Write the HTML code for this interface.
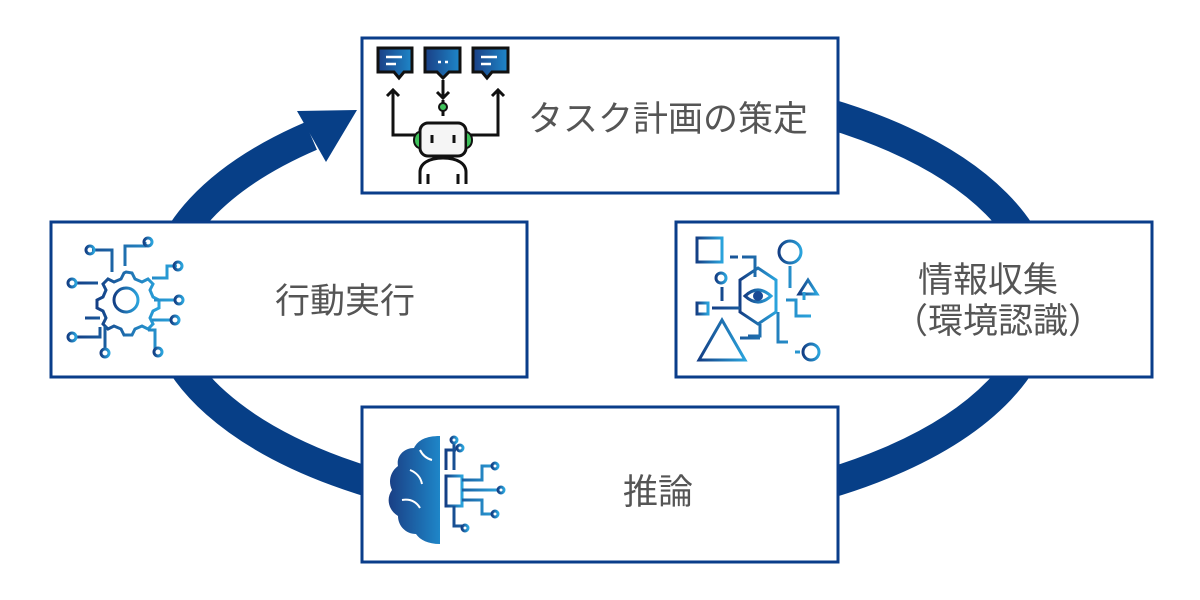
<!DOCTYPE html>
<html><head><meta charset="utf-8"><style>
html,body{margin:0;padding:0;background:#fff;}
svg{display:block}
text{font-family:"Liberation Sans","Noto Sans CJK JP",sans-serif;fill:#555;font-size:35px;}
</style></head><body>
<svg width="1200" height="600" viewBox="0 0 1200 600" xmlns="http://www.w3.org/2000/svg">
<defs>
<linearGradient id="g" x1="0" y1="0" x2="1" y2="0"><stop offset="0" stop-color="#143f85"/><stop offset="1" stop-color="#2aa3dc"/></linearGradient>
<linearGradient id="gb" x1="0" y1="0" x2="1" y2="0"><stop offset="0" stop-color="#1a3f85"/><stop offset="1" stop-color="#1e86c8"/></linearGradient>
</defs>
<path d="M311 136 A440 216 0 1 0 700 88" fill="none" stroke="#073f87" stroke-width="30"/>
<polygon points="297,111 357,110 326,162" fill="#073f87"/>

<g fill="#fff" stroke="#0a3d8a" stroke-width="3">
<rect x="362" y="38" width="476" height="155"/>
<rect x="51" y="222" width="476" height="155"/>
<rect x="676" y="222" width="476" height="155"/>
<rect x="362" y="407" width="476" height="155"/>
</g>

<text x="528" y="131">タスク計画の策定</text>
<text x="275" y="313">行動実行</text>
<text x="918" y="292">情報収集</text>
<text x="893" y="333">（環境認識）</text>
<text x="623" y="504">推論</text>

<!-- robot icon -->
<g stroke="#111" stroke-width="3" fill="url(#gb)">
<path d="M378 48 h34 v24 h-8 l-5 6 l-5 -6 h-16 z"/>
<path d="M425 48 h35 v24 h-11 l-6 6 l-6 -6 h-12 z"/>
<path d="M473 48 h35 v24 h-16 l-5 6 l-5 -6 h-9 z"/>
</g>
<g stroke="#fff" stroke-width="2.5"><path d="M386 57h16M386 64h10M481 57h16M481 64h10M438 62h3M445 62h3"/></g>
<g fill="none" stroke="#111" stroke-width="3">
<path d="M393 128v-38M387 96l6-6 6 6M498 128v-38M492 96l6-6 6 6M443 80v18M437 92l6 6 6-6M443 100v16"/>
<path d="M393 110v25h22M498 110v25h-27"/>
<rect x="420" y="123" width="46" height="33" rx="8" fill="#f5f5f5"/>
<path d="M432 135v8M454 135v8"/>
<path d="M420 184v-12c0-8 8-14 23-14s23 6 23 14v12M428 184v-10M458 184v-10"/>
</g>
<circle cx="443" cy="107" r="4" fill="#3ec15a" stroke="#111" stroke-width="2"/>
<path d="M420 132a6 8 0 0 0 0 16z M466 132a6 8 0 0 1 0 16z" fill="#3ec15a" stroke="#111" stroke-width="2"/>

<!-- gear icon -->
<g fill="none" stroke="url(#g)" stroke-width="3">
<circle cx="126" cy="300" r="12"/>
<path d="M126 272l6 1 3 6 7 3 6-3 5 5-3 6 3 7 6 3v8l-6 3-3 7 3 6-5 5-6-3-7 3-3 6h-8l-3-6-7-3-6 3-5-5 3-6-3-7-6-3v-8l6-3 3-7-3-6 5-5 6 3 7-3 3-6z"/>
<path d="M92 250h20v22M75 283h23M85 318h15M75 337h25v-10M105 350v-24M125 266v-20h20v-4M152 278h15v-12h10M154 300h22M152 320h20M148 330h7v20"/>
<circle cx="90" cy="250" r="4"/><circle cx="148" cy="242" r="4"/><circle cx="178" cy="266" r="4"/><circle cx="179" cy="300" r="4"/><circle cx="175" cy="320" r="4"/><circle cx="158" cy="352" r="4"/><circle cx="105" cy="353" r="4"/><circle cx="72" cy="283" r="4"/><circle cx="72" cy="337" r="4"/>
</g>

<!-- vision icon -->
<g fill="none" stroke="url(#g)" stroke-width="3">
<rect x="697" y="238" width="25" height="24"/>
<circle cx="790" cy="252" r="11"/>
<circle cx="721" cy="278" r="5"/>
<rect x="697" y="303" width="11" height="11"/>
<polygon points="722,320 745,360 699,360"/>
<polygon points="808,280 817,294 799,294"/>
<circle cx="811" cy="352" r="8"/>
<polygon points="740,280 758,268 776,280 776,312 758,324 740,312"/>
<path d="M745 296q13-12 26 0q-13 12-26 0z"/>
<path d="M730 257h8M742 257h13v20M722 287v14M712 308h28M790 266v22M786 300h10v16h15M804 300v-8M760 324v12h-12M740 338h20M778 312v30h10M795 352h5"/>
</g>
<circle cx="758" cy="296" r="5" fill="#1a4a95"/>

<!-- brain icon -->
<path d="M440 436c-14 0-22 4-26 12c-10 0-18 8-16 18c-8 6-10 16-6 24c-6 8-4 20 6 26c0 10 8 18 18 18c4 6 12 10 24 10z" fill="url(#gb)"/>
<g fill="none" stroke="#fff" stroke-width="2"><path d="M410 470q10 4 12 14M402 500q12-2 18 8M420 450q4 8 12 10"/></g>
<g fill="none" stroke="url(#g)" stroke-width="3">
<path d="M440 436v107"/>
<rect x="446" y="476" width="16" height="30"/>
<path d="M446 470v-20h10M462 480h20v-14h10M462 490h36M462 500h20v14h10M454 506v20h8M454 470v-28"/>
<circle cx="460" cy="448" r="3"/><circle cx="495" cy="466" r="3"/><circle cx="501" cy="490" r="3"/><circle cx="495" cy="514" r="3"/><circle cx="465" cy="528" r="3"/><circle cx="454" cy="440" r="3"/>
</g>
</svg>
</body></html>
